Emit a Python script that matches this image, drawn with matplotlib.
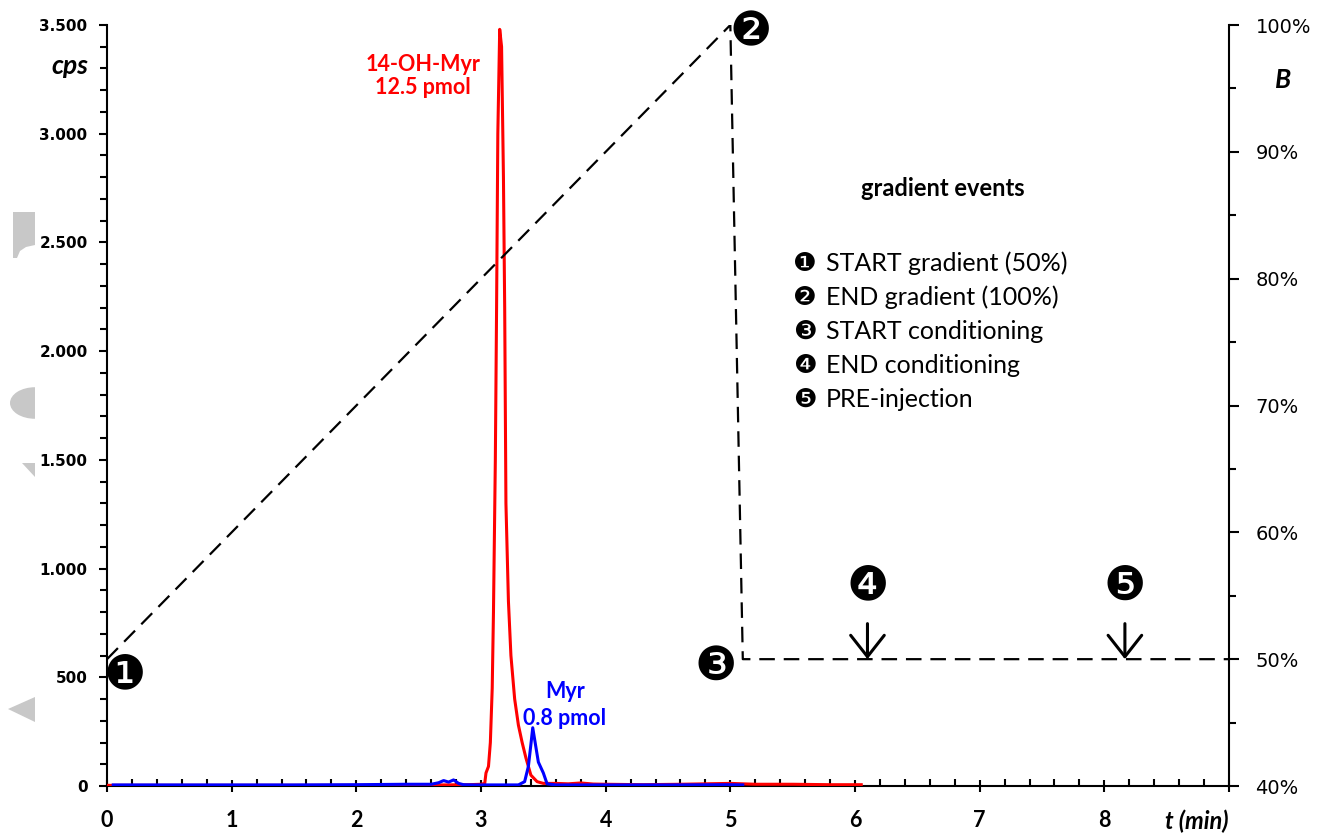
import matplotlib
matplotlib.use("Agg")
import matplotlib.pyplot as plt
from matplotlib.patches import Polygon, Wedge
from matplotlib.ticker import MultipleLocator, FixedLocator, FixedFormatter

# ---------------- data ----------------
red_t = [0.00, 0.50, 1.00, 1.50, 2.00, 2.50, 2.90, 3.00, 3.03, 3.04, 3.06, 3.075, 3.09,
         3.10, 3.115, 3.125, 3.135, 3.15, 3.165, 3.18, 3.19, 3.20, 3.22, 3.24, 3.27,
         3.30, 3.33, 3.36, 3.40, 3.45, 3.50, 3.60, 3.70, 3.80, 3.90, 4.00, 4.30, 4.60,
         4.80, 5.00, 5.20, 5.50, 5.80, 6.05]
red_cps = [3, 3, 3, 3, 3, 4, 6, 8, 12, 60, 90, 200, 450,
           800, 1500, 2200, 3000, 3480, 3400, 2800, 2200, 1300, 850, 600, 400,
           280, 200, 130, 50, 20, 12, 12, 10, 14, 9, 8, 6, 8,
           10, 12, 8, 8, 6, 6]

blue_t = [0.05, 0.50, 1.00, 1.50, 2.00, 2.40, 2.60, 2.66, 2.70, 2.74, 2.78, 2.82, 2.86,
          2.95, 3.10, 3.30, 3.35, 3.38, 3.40, 3.415, 3.44, 3.46, 3.48, 3.50, 3.53, 3.60,
          4.00, 4.50, 5.00, 5.10]
blue_cps = [5, 5, 5, 5, 6, 8, 8, 15, 25, 18, 28, 12, 6,
            5, 5, 5, 20, 90, 190, 268, 180, 110, 85, 60, 10, 5,
            5, 5, 6, 5]

grad_t = [0.0, 5.0, 5.1, 9.0]
grad_B = [50, 100, 50, 50]

x_ticks = [0, 1, 2, 3, 4, 5, 6, 7, 8, 9]
x_labels = ["0", "1", "2", "3", "4", "5", "6", "7", "8", ""]
cps_ticks = [0, 500, 1000, 1500, 2000, 2500, 3000, 3500]
cps_labels = ["0", "500", "1.000", "1.500", "2.000", "2.500", "3.000", "3.500"]
B_ticks = [40, 50, 60, 70, 80, 90, 100]
B_labels = ["40%", "50%", "60%", "70%", "80%", "90%", "100%"]

event_marks = ["\u2776", "\u2777", "\u2778", "\u2779", "\u277a"]
event_t = [0.144, 5.16, 4.885, 6.10, 8.165]
event_B = [48.7, 99.4, 49.4, 55.7, 55.7]
arrow_t = [6.10, 8.165]

legend_title = "gradient events"
legend_items = ["START gradient (50%)", "END gradient (100%)", "START conditioning",
                "END conditioning", "PRE-injection"]

# ---------------- figure ----------------
W, H = 1321, 834
fig = plt.figure(figsize=(W / 100, H / 100), dpi=100)
fig.patch.set_facecolor("white")
ax = fig.add_axes([107 / W, 1 - 786 / H, (1229 - 107) / W, (786 - 25) / H])

# faint grey watermark shapes at left edge
def px(x, y):
    return (x / W, 1 - y / H)

grey = "#c8c8c8"
shapes = [
    [(13, 212), (35, 212), (35, 245), (26, 247), (20, 251), (17, 258), (13, 258)],
    [(22, 463), (35, 463), (35, 477)],
    [(8, 709), (35, 697), (35, 722)],
]
for s in shapes:
    fig.patches.append(Polygon([px(*p) for p in s], closed=True, transform=fig.transFigure,
                               facecolor=grey, edgecolor="none"))
fig.patches.append(Wedge(px(35, 403), 25 / W, 90, 270, transform=fig.transFigure,
                         facecolor=grey, edgecolor="none"))

ax.plot(red_t, red_cps, color="#ff0000", lw=2.2, zorder=3)
ax.plot(blue_t, blue_cps, color="#0000ff", lw=2.2, zorder=4)

ax.set_xlim(0, 9)
ax.set_ylim(0, 3500)

for side in ["top", "right"]:
    ax.spines[side].set_visible(False)
for side in ["left", "bottom"]:
    ax.spines[side].set_linewidth(1.5)

ax.xaxis.set_major_locator(FixedLocator(x_ticks))
ax.xaxis.set_major_formatter(FixedFormatter(x_labels))
ax.xaxis.set_minor_locator(MultipleLocator(0.2))
ax.yaxis.set_major_locator(FixedLocator(cps_ticks))
ax.yaxis.set_major_formatter(FixedFormatter(cps_labels))
ax.yaxis.set_minor_locator(MultipleLocator(100))

ax.tick_params(axis="x", which="major", direction="inout", length=9, width=1.5, pad=13)
ax.tick_params(axis="x", which="minor", direction="in", length=5, width=1.5)
ax.tick_params(axis="y", which="major", direction="out", length=6, width=1.5, pad=8)
ax.tick_params(axis="y", which="minor", direction="out", length=5, width=1.5)
for lab in ax.get_xticklabels():
    lab.set_fontfamily("Lato")
    lab.set_fontweight("bold")
    lab.set_fontsize(15.5)
for lab in ax.get_yticklabels():
    lab.set_fontfamily("DejaVu Sans")
    lab.set_fontweight("bold")
    lab.set_fontsize(11)

ax2 = ax.twinx()
ax2.set_ylim(40, 100)
for side in ["top", "left", "bottom"]:
    ax2.spines[side].set_visible(False)
ax2.spines["right"].set_linewidth(1.5)
ax2.yaxis.set_major_locator(FixedLocator(B_ticks))
ax2.yaxis.set_major_formatter(FixedFormatter(B_labels))
ax2.yaxis.set_minor_locator(MultipleLocator(5))
ax2.tick_params(axis="y", which="major", direction="out", length=7, width=1.5, pad=12)
ax2.tick_params(axis="y", which="minor", direction="out", length=5, width=1.5)
for lab in ax2.get_yticklabels():
    lab.set_fontfamily("DejaVu Sans")
    lab.set_fontsize(14)

ax2.plot(grad_t, grad_B, color="black", lw=1.6, dashes=(7, 4), zorder=2)

# event markers
for m, t, b in zip(event_marks, event_t, event_B):
    ax2.text(t, b, m, fontsize=34, family=["DejaVu Sans"], ha="center", va="center")
for t in arrow_t:
    ax2.annotate("", xy=(t, 50.0), xytext=(t, 52.8),
                 arrowprops=dict(arrowstyle="->,head_length=0.7,head_width=0.55",
                                 mutation_scale=22, lw=2.2, color="black",
                                 shrinkA=0, shrinkB=0))

# legend block
ax2.text(6.706, 87.09, legend_title, fontsize=17, fontweight="bold",
         family=["Lato", "DejaVu Sans"], ha="center", va="center")
leg_B = [81.18, 78.50, 75.83, 73.15, 70.47]
for m, item, b in zip(event_marks, legend_items, leg_B):
    ax2.text(5.595, b, m, fontsize=19, family=["DejaVu Sans"], ha="center", va="center")
    ax2.text(5.767, b, item, fontsize=18, family=["Lato", "DejaVu Sans"],
             ha="left", va="center")

# peak labels
ax.text(2.535, 3266, "14-OH-Myr\n12.5 pmol", color="#ff0000", fontsize=15.5,
        fontweight="bold", family=["Lato"], ha="center", va="center", linespacing=1.15)
ax.text(3.674, 372, "Myr\n0.8 pmol", color="#0000ff", fontsize=15.5,
        fontweight="bold", family=["Lato"], ha="center", va="center", linespacing=1.35)

# axis titles
fig.text(70 / W, 1 - 66 / H, "cps", fontsize=19, fontweight="bold", fontstyle="italic",
         family=["Lato"], ha="center", va="center")
fig.text(1283 / W, 1 - 80 / H, "B", fontsize=19, fontweight="bold", fontstyle="italic",
         family=["Lato"], ha="center", va="center")
fig.text(1197 / W, 1 - 821 / H, "t (min)", fontsize=17, fontweight="bold", fontstyle="italic",
         family=["Lato"], ha="center", va="center")

fig.savefig("out.png", dpi=100)
